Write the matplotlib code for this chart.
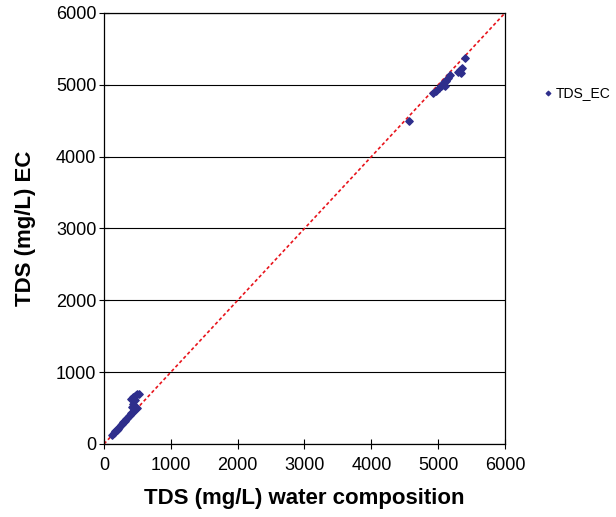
import matplotlib
matplotlib.use("Agg")
import matplotlib.pyplot as plt

plt.rcParams["font.family"] = ["Liberation Sans", "DejaVu Sans"]

# TDS from water composition vs TDS estimated from EC (mg/L)
tds_wc = [120, 150, 170, 190, 210, 230, 250, 270, 290, 310, 330, 350, 370, 390,
          410, 430, 450, 470, 490, 420, 440, 460, 400, 430, 460, 500, 520, 480,
          4570, 4930, 4970, 5010, 5060, 5090, 5120, 5150, 5180, 5300, 5330,
          5360, 5400, 5340, 5040, 5100]
tds_ec = [125, 160, 180, 200, 215, 240, 260, 285, 300, 320, 345, 365, 385, 405,
          425, 445, 470, 490, 500, 520, 560, 610, 620, 650, 670, 690, 700, 680,
          4490, 4880, 4910, 4950, 5000, 5040, 5060, 5100, 5130, 5180, 5210,
          5240, 5370, 5170, 4990, 4990]

fig = plt.figure(figsize=(6.16, 5.17), dpi=100)
ax = fig.add_axes([0.1688, 0.1412, 0.651, 0.8337])

ax.plot([0, 6000], [0, 6000], color="#e8141c", linestyle=(0, (2, 1.5)), linewidth=1.2, zorder=2)
ax.scatter(tds_wc, tds_ec, marker="D", s=14, color="#2e2e8c", label="TDS_EC", zorder=3)

ax.set_xlim(0, 6000)
ax.set_ylim(0, 6000)
ax.set_xticks(range(0, 6001, 1000))
ax.set_yticks(range(0, 6001, 1000))
ax.yaxis.grid(True, color="black", linewidth=0.8)
ax.set_axisbelow(True)
for s in ax.spines.values():
    s.set_linewidth(0.9)
ax.tick_params(direction="inout", length=7, labelsize=13, width=0.8, pad=2)
ax.tick_params(axis="x", pad=6)

ax.set_xlabel("TDS (mg/L) water composition", fontsize=16, fontweight="bold", labelpad=10)
ax.set_ylabel("TDS (mg/L) EC", fontsize=16, fontweight="bold", labelpad=14)

fig.legend(loc="upper left", bbox_to_anchor=(0.862, 0.853), frameon=False,
           fontsize=10, handletextpad=0.1, markerscale=0.6, handlelength=1.0,
           borderpad=0.2)

fig.savefig("out.png", dpi=100)
